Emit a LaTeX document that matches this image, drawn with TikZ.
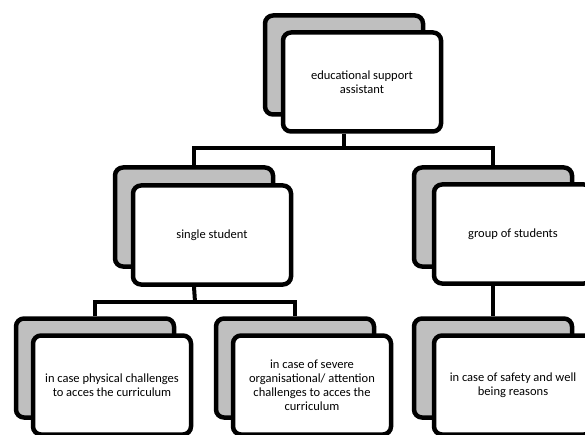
\documentclass[tikz,border=0pt]{standalone}
\usepackage{fontspec}
\setmainfont{Carlito}
\usetikzlibrary{positioning}
\definecolor{backgray}{RGB}{191,191,191}

\begin{document}
\begin{tikzpicture}[x=1pt,y=-1pt,
  card/.style={draw,line width=4.5pt,rounded corners=8pt,minimum width=158pt,minimum height=99pt,inner sep=0pt},
  back/.style={card,fill=backgray},
  front/.style={card,fill=white,align=center,font=\fontsize{12.5}{14.1}\selectfont},
  link/.style={line width=4pt}]
\useasboundingbox (0,0) rectangle (585,435);
\clip (0,0) rectangle (585,435);

% top
\node [back] (easB) at (344,65) {};
\node [front] (easF) at (362,82) {educational support\\assistant};

% second row
\node [back] (ssB) at (194,217) {};
\node [front] (ssF) at (212,235) {single student};
\node [back] (gsB) at (493,217) {};
\node [front] (gsF) at (513,234) {group of students};

% third row
\node [back] (phB) at (95,368) {};
\node [front] (phF) at (112,385) {in case physical challenges\\to acces the curriculum};
\node [back] (orB) at (295,368) {};
\node [front] (orF) at (312,385) {in case of severe\\organisational/ attention\\challenges to acces the\\curriculum};
\node [back] (saB) at (493,368) {};
\node [front] (saF) at (513,385) {in case of safety and well\\being reasons};

% connectors
\coordinate (busA) at (344,148);
\coordinate (busB) at (195,302);
\draw [link] (easF.south -| easB.center) -- (busA);
\draw [link] (ssB.north) |- (busA) -| (gsB.north);
\draw [link] (ssF.south -| ssB.center) -- (busB);
\draw [link] (phB.north) |- (busB) -| (orB.north);
\draw [link] (gsF.south -| gsB.center) -- (saB.north);
\end{tikzpicture}
\end{document}
